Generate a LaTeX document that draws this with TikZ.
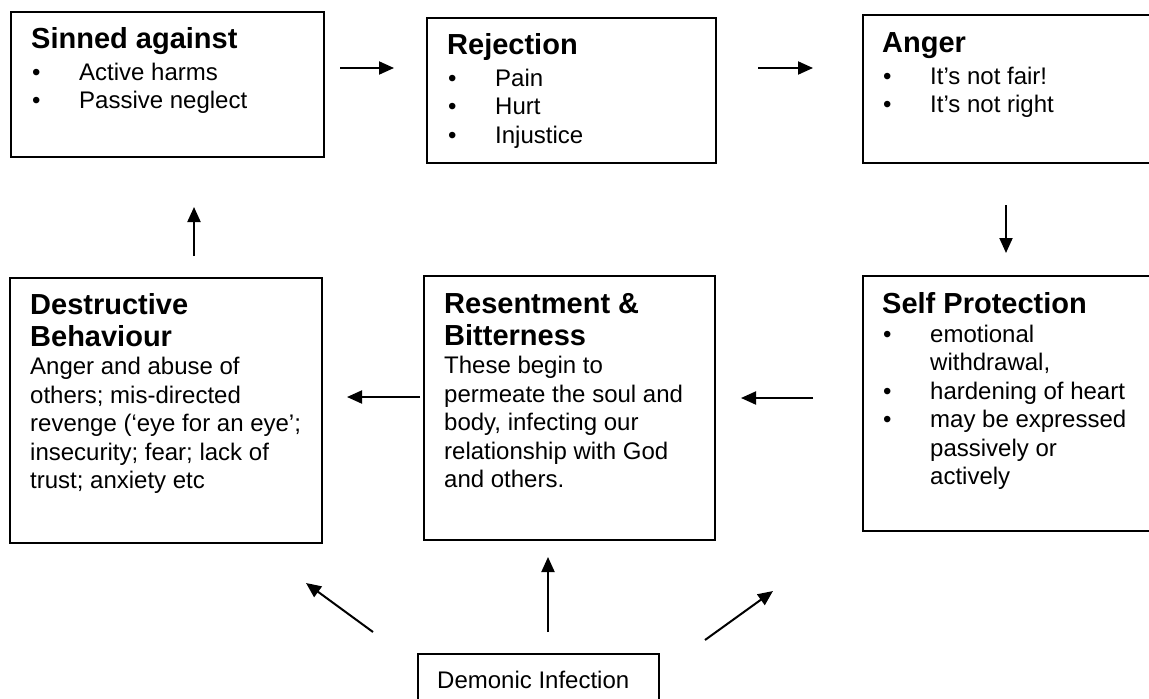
\documentclass[tikz,border=0pt]{standalone}
\usepackage{fontspec}
\setmainfont{Liberation Sans}
\usetikzlibrary{arrows.meta}
\newcommand\ttlf{\fontsize{29}{32}\bfseries\selectfont}
\newcommand\bdyf{\fontsize{24}{28.5}\mdseries\selectfont}
\newcommand\bitem[1]{\par\noindent\makebox[48pt][l]{\hspace{1pt}•}#1}
\newcommand\bcont[1]{\par\noindent\hspace*{48pt}#1}
\tikzset{
  frame/.style={draw=black, line width=2pt, rectangle, anchor=north west, inner sep=0pt},
  txt/.style={anchor=base west, inner sep=0pt},
  arr/.style={line width=2pt, -{Triangle[length=15pt,width=13pt]}}
}
\begin{document}
\begin{tikzpicture}[x=1pt,y=-1pt]
\useasboundingbox (0,0) rectangle (1149,699);
\fill[white] (0,0) rectangle (1149,699);
\clip (0,0) rectangle (1149,699);
% boxes
\node[frame, minimum width=313pt, minimum height=145pt] (sin) at (10,11) {};
\node[frame, minimum width=289pt, minimum height=145pt] (rej) at (426,17) {};
\node[frame, minimum width=300pt, minimum height=148pt] (ang) at (862,14) {};
\node[frame, minimum width=312pt, minimum height=265pt] (des) at (9,277) {};
\node[frame, minimum width=291pt, minimum height=264pt] (res) at (423,275) {};
\node[frame, minimum width=300pt, minimum height=255pt] (sel) at (862,275) {};
\node[frame, minimum width=241pt, minimum height=80pt] (dem) at (417,653) {};
% texts
\node[txt] (sint) at (31,48) {\parbox[t]{290pt}{\raggedright\ttlf Sinned against\par\vspace{3.5pt}\bdyf\bitem{Active harms}\bitem{Passive neglect}}};
\node[txt] (rejt) at (447,54) {\parbox[t]{260pt}{\raggedright\ttlf Rejection\par\vspace{3.5pt}\bdyf\bitem{Pain}\bitem{Hurt}\bitem{Injustice}}};
\node[txt] (angt) at (882,52) {\parbox[t]{260pt}{\raggedright\ttlf Anger\par\vspace{3.5pt}\bdyf\bitem{It’s not fair!}\bitem{It’s not right}}};
\node[txt] (dest) at (30,314) {\parbox[t]{295pt}{\raggedright\ttlf Destructive\\Behaviour\par\bdyf Anger and abuse of\\others; mis-directed\\revenge (‘eye for an eye’;\\insecurity; fear; lack of\\trust; anxiety etc}};
\node[txt] (rest) at (444,313) {\parbox[t]{270pt}{\raggedright\ttlf Resentment \&\\Bitterness\par\bdyf These begin to\\permeate the soul and\\body, infecting our\\relationship with God\\and others.}};
\node[txt] (selt) at (882,313) {\parbox[t]{270pt}{\raggedright\ttlf Self Protection\par\vspace{0.5pt}\bdyf\bitem{emotional}\bcont{withdrawal,}\bitem{hardening of heart}\bitem{may be expressed}\bcont{passively or}\bcont{actively}}};
\node[txt] (demt) at (437,688) {\bdyf Demonic Infection};
% connector ends
\coordinate (a1s) at (340,68);  \coordinate (a1e) at (394,68);
\coordinate (a2s) at (758,68);  \coordinate (a2e) at (813,68);
\coordinate (a3s) at (1006,205); \coordinate (a3e) at (1006,253);
\coordinate (a4s) at (813,398); \coordinate (a4e) at (741,398);
\coordinate (a5s) at (420,397); \coordinate (a5e) at (347,397);
\coordinate (a6s) at (194,256); \coordinate (a6e) at (194,207);
\coordinate (a7s) at (373,632); \coordinate (a7e) at (306,583);
\coordinate (a8s) at (548,632); \coordinate (a8e) at (548,557);
\coordinate (a9s) at (705,640); \coordinate (a9e) at (773,591);
\draw[arr] (a1s) -- (a1e);
\draw[arr] (a2s) -- (a2e);
\draw[arr] (a3s) -- (a3e);
\draw[arr] (a4s) -- (a4e);
\draw[arr] (a5s) -- (a5e);
\draw[arr] (a6s) -- (a6e);
\draw[arr] (a7s) -- (a7e);
\draw[arr] (a8s) -- (a8e);
\draw[arr] (a9s) -- (a9e);
\end{tikzpicture}
\end{document}
